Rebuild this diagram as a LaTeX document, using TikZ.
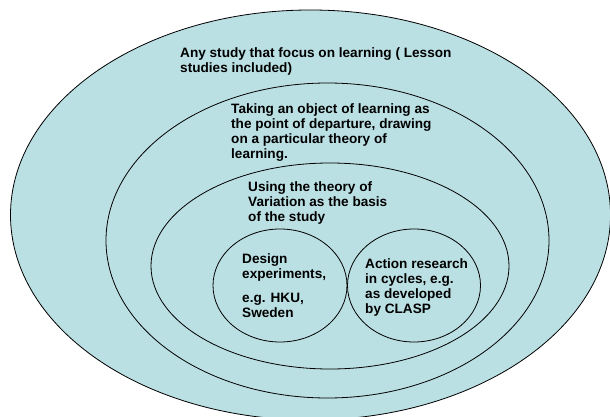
\documentclass[tikz,border=0pt]{standalone}
\usepackage{fontspec}
\setmainfont{Liberation Sans}
\usetikzlibrary{shapes.geometric}
\definecolor{skyfill}{RGB}{187,224,228}
\tikzset{
  ring/.style={ellipse, draw=black, line width=0.8pt, fill=skyfill, inner sep=0pt},
  label/.style={anchor=north west, inner sep=0pt, align=left,
    font=\bfseries\fontsize{13.6pt}{15pt}\selectfont}
}
\begin{document}
\begin{tikzpicture}[x=1pt,y=-1pt]
\useasboundingbox (0,0) rectangle (610,417);
\node[ring, minimum width=600pt, minimum height=410pt] (outer) at (310.5,215) {};
\node[ring, minimum width=443pt, minimum height=315pt] (mid) at (327.5,240.5) {};
\node[ring, minimum width=358pt, minimum height=206pt] (inner) at (330,266) {};
\node[ring, minimum width=134pt, minimum height=113pt] (left) at (280,285.5) {};
\node[ring, minimum width=133pt, minimum height=113pt] (right) at (414,285.5) {};
\node[label] (t1) at (180,47) {Any study that focus on learning ( Lesson\\studies included)};
\node[label] (t2) at (231,103) {Taking an object of learning as\\the point of departure, drawing\\on a particular theory of\\learning.};
\node[label] (t3) at (248,181) {Using the theory of\\Variation as the basis\\of the study};
\node[label] (t4) at (242,253) {Design\\experiments,\\[9pt]e.g. HKU,\\Sweden};
\node[label] (t5) at (365,258) {Action research\\in cycles, e.g.\\as developed\\by CLASP};
\end{tikzpicture}
\end{document}
